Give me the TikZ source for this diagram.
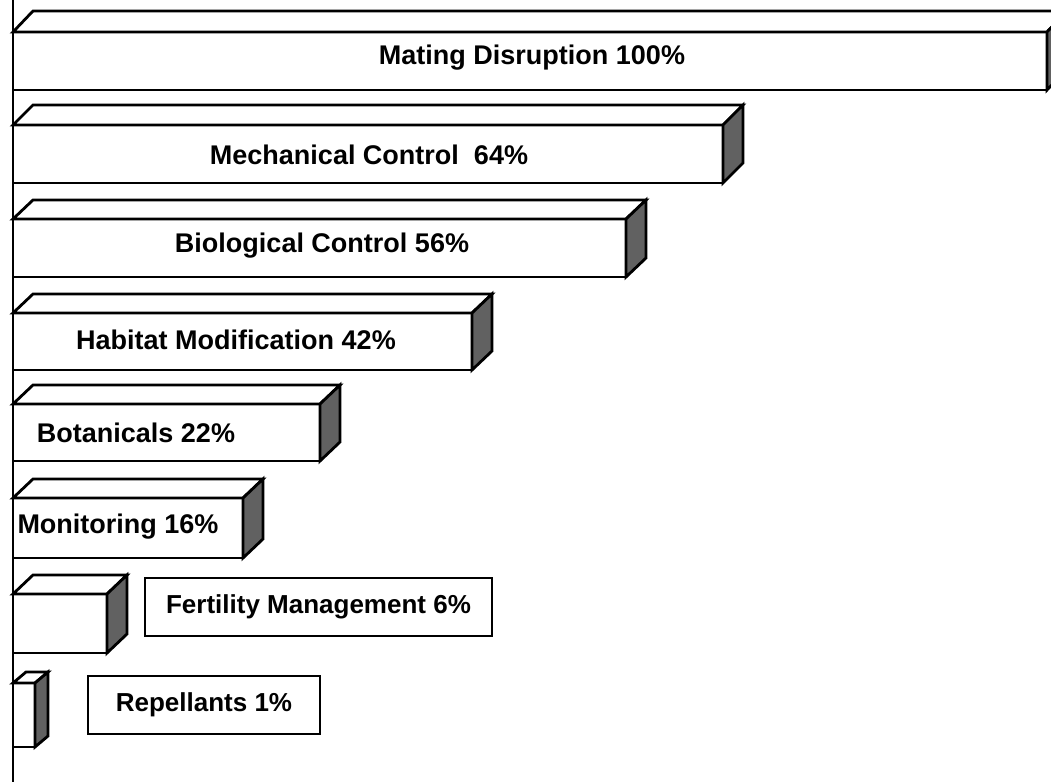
\documentclass[tikz,border=0pt]{standalone}
\usepackage{fontspec}
\setmainfont{Liberation Sans}
\usepackage{tikz}
\tikzset{
  barline/.style={draw=black, line width=2.8pt, line join=miter, fill=white},
  sidefill/.style={fill=black!62},
  barlabel/.style={font=\fontsize{27}{31}\selectfont\bfseries, inner sep=0pt},
  boxlabel/.style={draw=black, line width=1.6pt, font=\fontsize{26}{30}\selectfont\bfseries,
                   minimum height=58pt, inner sep=0pt}
}
% #1 right end, #2 top of front, #3 bottom of front, #4 depth x, #5 depth y
\newcommand{\drawbar}[5]{%
  \draw[barline] (13,#2) rectangle (#1,#3);
  \draw[barline] (13,#2) -- ++(#4,-#5) -- (#1+#4,#2-#5) -- (#1,#2) -- cycle;
  \draw[barline,sidefill] (#1,#2) -- (#1+#4,#2-#5) -- (#1+#4,#3-#5) -- (#1,#3) -- cycle;
}

\begin{document}
\begin{tikzpicture}[x=1pt,y=-1pt]
          \useasboundingbox (0,0) rectangle (1051,782);
          \clip (0,0) rectangle (1051,782);

          \drawbar{1047}{32}{90}{20}{21}
          \drawbar{723}{125}{183}{20}{20}
          \drawbar{626}{219}{277}{20}{19}
          \drawbar{472}{313}{370}{20}{19}
          \drawbar{320}{404}{461}{20}{19}
          \drawbar{243}{498}{558}{20}{19}
          \drawbar{107}{594}{653}{20}{19}
          \drawbar{35}{683}{747}{13}{11}

          % axis
          \draw[line width=2.8pt] (13,0) -- (13,782);

          \node[barlabel] (mating) at (532,58) {Mating Disruption 100\%};
          \node[barlabel] (mech) at (369,155) {Mechanical Control\ \ 64\%};
          \node[barlabel] (bio) at (322,246) {Biological Control 56\%};
          \node[barlabel] (habitat) at (236,340) {Habitat Modification 42\%};
          \node[barlabel] (botan) at (136,433) {Botanicals 22\%};
          \node[barlabel] (monit) at (118,527) {Monitoring 16\%};

          \node[boxlabel, minimum width=347pt] (fert) at (318.5,607) {Fertility Management 6\%};
          \node[boxlabel, minimum width=232pt] (repel) at (204,705) {Repellants 1\%};
        \end{tikzpicture}
\end{document}
